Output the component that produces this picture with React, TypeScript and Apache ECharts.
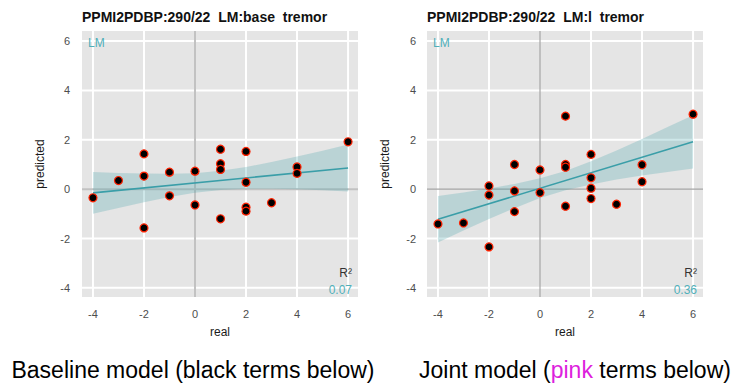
import React, { useEffect, useRef } from "react";
import * as echarts from "echarts";

// ---- data ----
const titles = ["PPMI2PDBP:290/22  LM:base  tremor", "PPMI2PDBP:290/22  LM:l  tremor"];
const captionsLeft = "Baseline model (black terms below)";
const r2Values = ["0.07", "0.36"];
const tickValues = [-4, -2, 0, 2, 4, 6];

const baseX = [-4, -3, -2, -2, -2, -1, -1, 0, 0, 1, 1, 1, 1, 2, 2, 2, 2, 3, 4, 4, 6];
const baseY = [-0.35, 0.35, 1.43, 0.53, -1.57, 0.69, -0.27, 0.73, -0.64, 1.62, 1.03, 0.8, -1.2, 1.53, 0.28, -0.73, -0.89, -0.55, 0.9, 0.64, 1.92];

const jointX = [-4, -3, -2, -2, -2, -1, -1, -1, 0, 0, 1, 1, 1, 1, 2, 2, 2, 2, 3, 4, 4, 6];
const jointY = [-1.41, -1.37, 0.13, -0.24, -2.34, 1.0, -0.07, -0.91, 0.78, -0.14, 2.96, 1.0, 0.89, -0.69, 1.41, 0.46, 0.04, -0.38, -0.61, 0.99, 0.3, 3.04];

const fitX = [-4, 6];
const baseFit = [-0.15, 0.86];
const jointFit = [-1.22, 1.92];

const bandX = [-4, -3, -2, -1, 0, 1, 2, 3, 4, 5, 6];
const baseUpper = [0.7, 0.66, 0.63, 0.62, 0.65, 0.75, 0.9, 1.1, 1.32, 1.56, 1.81];
const baseLower = [-1.0, -0.76, -0.53, -0.32, -0.15, -0.03, 0.02, 0.02, 0.0, -0.04, -0.09];
const jointUpper = [-0.28, -0.14, 0.03, 0.21, 0.44, 0.74, 1.13, 1.57, 2.03, 2.52, 3.0];
const jointLower = [-2.16, -1.68, -1.21, -0.77, -0.36, -0.04, 0.19, 0.39, 0.55, 0.7, 0.84];

const FONT = "'Liberation Sans', Arial, Helvetica, sans-serif";
const TEAL = "#3a9ea8";
const TEAL_TXT = "#4fb0ba";

const panels = [
  { left: 82, xs: baseX, ys: baseY, fit: baseFit, up: baseUpper, lo: baseLower, zeroW: 2, zeroC: "#c2c2c2" },
  { left: 427, xs: jointX, ys: jointY, fit: jointFit, up: jointUpper, lo: jointLower, zeroW: 1.2, zeroC: "#a6a6a6" },
];
const GRID_TOP = 31;
const GRID_W = 276;
const GRID_H = 266;

export default function App() {
  const ref = useRef<HTMLDivElement>(null);
  useEffect(() => {
    document.body.style.margin = "0";
    const chart = echarts.init(ref.current!, null, { renderer: "svg" });
    const grid: any[] = [];
    const xAxis: any[] = [];
    const yAxis: any[] = [];
    const series: any[] = [];
    const graphic: any[] = [];
    const title: any[] = [];

    panels.forEach((p, i) => {
      grid.push({ left: p.left, top: GRID_TOP, width: GRID_W, height: GRID_H, show: false });
      xAxis.push({
        type: "value", gridIndex: i, min: -4.43, max: 6.39,
        axisLine: { show: false }, axisTick: { show: false }, splitLine: { show: false },
        axisLabel: { customValues: tickValues, color: "#4d4d4d", fontSize: 11, fontFamily: FONT, margin: 11 },
        name: "real", nameLocation: "middle", nameGap: 29,
        nameTextStyle: { color: "#1a1a1a", fontSize: 12, fontFamily: FONT },
      });
      yAxis.push({
        type: "value", gridIndex: i, min: -4.37, max: 6.41,
        axisLine: { show: false }, axisTick: { show: false }, splitLine: { show: false },
        axisLabel: { customValues: tickValues, color: "#4d4d4d", fontSize: 11, fontFamily: FONT, margin: i === 0 ? 12 : 11 },
        name: "predicted", nameLocation: "middle", nameGap: 36,
        nameTextStyle: { color: "#1a1a1a", fontSize: 12, fontFamily: FONT },
      });
      title.push({
        text: titles[i], left: p.left, top: 10,
        textStyle: { fontSize: 14, fontWeight: "bold", color: "#111", fontFamily: FONT },
        padding: 0,
      });
      // panel background, grid lines and zero lines drawn through the axes' scales
      series.push({
        type: "custom", xAxisIndex: i, yAxisIndex: i, z: 1, silent: true,
        data: tickValues.map((v) => [v, v]),
        renderItem: (params: any, api: any) => {
          const v = api.value(0);
          const cs = params.coordSys;
          const pt = api.coord([v, v]);
          const isZero = v === 0;
          const children: any[] = [];
          if (params.dataIndex === 0) {
            children.push({ type: "rect", z2: 0, shape: { x: cs.x, y: cs.y, width: cs.width, height: cs.height }, style: { fill: "#e5e5e5" } });
          }
          const st = isZero
            ? { stroke: p.zeroC, lineWidth: p.zeroW, fill: null }
            : { stroke: "#ffffff", lineWidth: 2, fill: null };
          children.push(
            { type: "line", z2: isZero ? 20 : 10, shape: { x1: pt[0], y1: cs.y, x2: pt[0], y2: cs.y + cs.height }, style: st },
            { type: "line", z2: isZero ? 20 : 10, shape: { x1: cs.x, y1: pt[1], x2: cs.x + cs.width, y2: pt[1] }, style: st },
          );
          return { type: "group", children };
        },
      });
      // confidence band
      series.push({
        type: "custom", xAxisIndex: i, yAxisIndex: i, z: 2, silent: true,
        data: bandX.map((x, k) => [x, p.lo[k], p.up[k]]),
        renderItem: (params: any, api: any) => {
          if (params.dataIndex !== 0) return null;
          const pts: number[][] = [];
          for (let k = 0; k < bandX.length; k++) pts.push(api.coord([bandX[k], p.up[k]]));
          for (let k = bandX.length - 1; k >= 0; k--) pts.push(api.coord([bandX[k], p.lo[k]]));
          return { type: "polygon", shape: { points: pts }, style: { fill: "rgba(58,158,168,0.25)" } };
        },
      });
      // regression line
      series.push({
        type: "line", xAxisIndex: i, yAxisIndex: i, z: 3, symbol: "none", silent: true,
        data: fitX.map((x, k) => [x, p.fit[k]]),
        lineStyle: { color: TEAL, width: 1.6 },
      });
      // points
      series.push({
        type: "scatter", xAxisIndex: i, yAxisIndex: i, z: 4, symbolSize: 8,
        data: p.xs.map((x, k) => [x, p.ys[k]]),
        itemStyle: { color: "#000000", borderColor: "#ff2200", borderWidth: 1.2, opacity: 1 },
      });
      const right = p.left + GRID_W - 6;
      graphic.push(
        { type: "text", x: p.left + 6, y: 43, z: 10, style: { text: "LM", fill: TEAL_TXT, fontSize: 12, fontFamily: FONT, align: "left", verticalAlign: "middle" } },
        { type: "text", x: right, y: 273, z: 10, style: { text: "R²", fill: "#333333", fontSize: 12, fontFamily: FONT, align: "right", verticalAlign: "middle" } },
        { type: "text", x: right, y: 290, z: 10, style: { text: r2Values[i], fill: TEAL_TXT, fontSize: 12, fontFamily: FONT, align: "right", verticalAlign: "middle" } },
      );
    });

    graphic.push(
      { type: "text", x: 193, y: 370, style: { text: captionsLeft, fill: "#000", fontSize: 23, fontFamily: FONT, align: "center", verticalAlign: "middle" } },
      {
        type: "text", x: 575, y: 370,
        style: {
          text: "Joint model ({p|pink} terms below)", fill: "#000", fontSize: 23, fontFamily: FONT, align: "center", verticalAlign: "middle",
          rich: { p: { fill: "#dd1fdd", fontSize: 23, fontFamily: FONT } },
        },
      },
    );

    chart.setOption({
      animation: false,
      backgroundColor: "#ffffff",
      title, grid, xAxis, yAxis, series, graphic,
    });
    return () => chart.dispose();
  }, []);
  return <div ref={ref} style={{ width: 749, height: 383 }} />;
}
